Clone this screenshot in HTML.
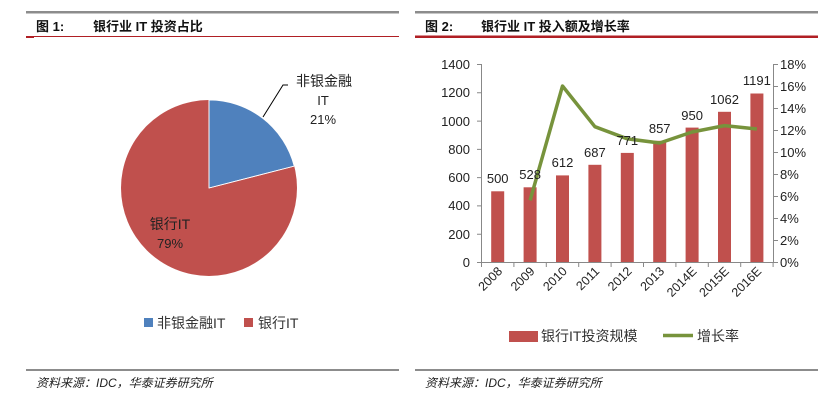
<!DOCTYPE html>
<html><head><meta charset="utf-8"><style>
body{margin:0;background:#fff;}
svg text{font-family:"Liberation Sans","Noto Sans CJK SC",sans-serif;}
</style></head><body>
<svg width="834" height="402" xmlns="http://www.w3.org/2000/svg">
<!-- headers -->
<rect x="26" y="11" width="373" height="2.5" fill="#8c8c8c"/>
<rect x="26" y="36" width="373" height="1" fill="#b01f24"/>
<rect x="26" y="36" width="8" height="2" fill="#b01f24"/>
<text x="36" y="31" font-size="13" font-weight="bold" fill="#111">图 1:</text>
<text x="93" y="31" font-size="13" font-weight="bold" fill="#111">银行业 IT 投资占比</text>
<rect x="415" y="11" width="403" height="2.5" fill="#8c8c8c"/>
<rect x="415" y="35.5" width="403" height="2.5" fill="#b01f24"/>
<text x="425" y="31" font-size="13" font-weight="bold" fill="#111">图 2:</text>
<text x="481" y="31" font-size="13" font-weight="bold" fill="#111">银行业 IT 投入额及增长率</text>
<!-- footers -->
<rect x="26" y="369" width="373" height="2" fill="#8c8c8c"/>
<rect x="415" y="369" width="403" height="2" fill="#8c8c8c"/>
<text x="36" y="387" font-size="12" font-style="italic" fill="#222" font-family="Liberation Serif,Noto Serif CJK SC,serif">资料来源：IDC，华泰证券研究所</text>
<text x="425" y="387" font-size="12" font-style="italic" fill="#222" font-family="Liberation Serif,Noto Serif CJK SC,serif">资料来源：IDC，华泰证券研究所</text>
<!-- pie -->
<circle cx="209" cy="188" r="88" fill="#c0504d"/>
<path d="M209 188 L209 100 A88 88 0 0 1 294.2 166.1 Z" fill="#4f81bd" stroke="#fff" stroke-width="0.8"/>
<path d="M209 188 L209 100 M209 188 L294.2 166.1" stroke="#fff" stroke-width="0.8"/>
<polyline points="263,117 283,85 288,85" fill="none" stroke="#000" stroke-width="1"/>
<text x="324" y="86" font-size="14" text-anchor="middle" fill="#222">非银金融</text>
<text x="323" y="105" font-size="13" text-anchor="middle" fill="#222">IT</text>
<text x="323" y="124" font-size="13" text-anchor="middle" fill="#222">21%</text>
<text x="170" y="229" font-size="14" text-anchor="middle" fill="#222">银行IT</text>
<text x="170" y="248" font-size="13" text-anchor="middle" fill="#222">79%</text>
<rect x="144" y="318" width="9" height="9" fill="#4f81bd"/>
<text x="157" y="328" font-size="14" fill="#333">非银金融IT</text>
<rect x="244" y="318" width="9" height="9" fill="#c0504d"/>
<text x="258" y="328" font-size="14" fill="#333">银行IT</text>
<!-- bar chart axes -->
<g stroke="#888" stroke-width="1" fill="none">
<path d="M481.5 64 V262.5 H773.5 V64"/>
<path d="M477 64.5H481.5 M477 92.8H481.5 M477 121.1H481.5 M477 149.4H481.5 M477 177.6H481.5 M477 205.9H481.5 M477 234.2H481.5 M477 262.5H481.5"/>
<path d="M773.5 64.5H778 M773.5 86.5H778 M773.5 108.5H778 M773.5 130.5H778 M773.5 152.5H778 M773.5 174.5H778 M773.5 196.5H778 M773.5 218.5H778 M773.5 240.5H778 M773.5 262.5H778"/>
<path d="M481.5 262V267 M513.9 262V267 M546.3 262V267 M578.7 262V267 M611.1 262V267 M643.5 262V267 M675.9 262V267 M708.3 262V267 M740.7 262V267 M773.1 262V267"/>
</g>
<g font-size="13" fill="#222" text-anchor="end">
<text x="470" y="69">1400</text><text x="470" y="97">1200</text><text x="470" y="126">1000</text><text x="470" y="154">800</text><text x="470" y="182">600</text><text x="470" y="210">400</text><text x="470" y="239">200</text><text x="470" y="267">0</text>
</g>
<g font-size="13" fill="#222">
<text x="780" y="69">18%</text><text x="780" y="91">16%</text><text x="780" y="113">14%</text><text x="780" y="135">12%</text><text x="780" y="157">10%</text><text x="780" y="179">8%</text><text x="780" y="201">6%</text><text x="780" y="223">4%</text><text x="780" y="245">2%</text><text x="780" y="267">0%</text>
</g>
<g fill="#c0504d">
<rect x="491.2" y="191.3" width="13" height="70.7"/>
<rect x="523.6" y="187.3" width="13" height="74.7"/>
<rect x="556" y="175.4" width="13" height="86.6"/>
<rect x="588.4" y="164.8" width="13" height="97.2"/>
<rect x="620.8" y="152.9" width="13" height="109.1"/>
<rect x="653.2" y="140.8" width="13" height="121.2"/>
<rect x="685.6" y="127.6" width="13" height="134.4"/>
<rect x="718" y="111.8" width="13" height="150.2"/>
<rect x="750.4" y="93.5" width="13" height="168.5"/>
</g>
<polyline points="530.1,200.4 562.5,86 594.9,126.7 627.3,138.8 659.7,143 692.1,132 724.5,125.6 756.9,129" fill="none" stroke="#77933c" stroke-width="3.5" stroke-linejoin="round"/>
<g font-size="13" fill="#222" text-anchor="middle">
<text x="497.7" y="183">500</text><text x="530.1" y="179">528</text><text x="562.5" y="167">612</text><text x="594.9" y="157">687</text><text x="627.3" y="145">771</text><text x="659.7" y="133">857</text><text x="692.1" y="120">950</text><text x="724.5" y="104">1062</text><text x="756.9" y="85">1191</text>
</g>
<g font-size="12.5" fill="#222" text-anchor="end">
<text transform="translate(503,272) rotate(-45)">2008</text>
<text transform="translate(535.4,272) rotate(-45)">2009</text>
<text transform="translate(567.8,272) rotate(-45)">2010</text>
<text transform="translate(600.2,272) rotate(-45)">2011</text>
<text transform="translate(632.6,272) rotate(-45)">2012</text>
<text transform="translate(665,272) rotate(-45)">2013</text>
<text transform="translate(697.4,272) rotate(-45)">2014E</text>
<text transform="translate(729.8,272) rotate(-45)">2015E</text>
<text transform="translate(762.2,272) rotate(-45)">2016E</text>
</g>
<rect x="509" y="331" width="29" height="11" fill="#c0504d"/>
<text x="541" y="341" font-size="14" fill="#333">银行IT投资规模</text>
<line x1="663" y1="335.5" x2="693" y2="335.5" stroke="#77933c" stroke-width="3.5"/>
<text x="697" y="341" font-size="14" fill="#333">增长率</text>
</svg>
</body></html>
